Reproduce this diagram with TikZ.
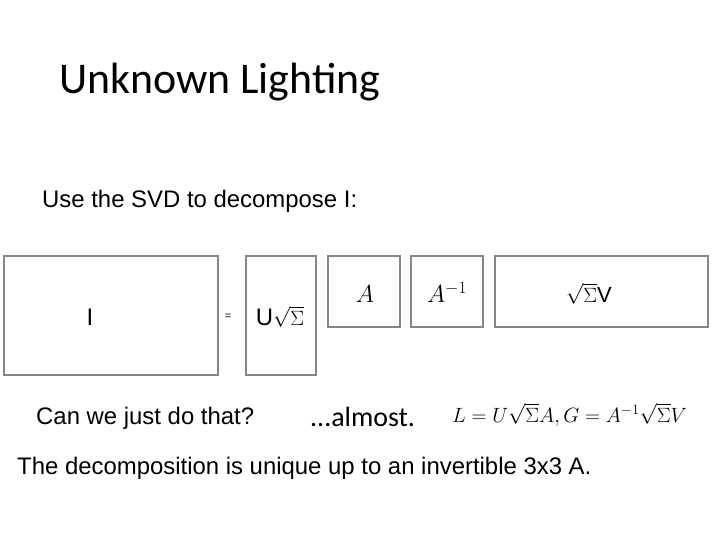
\documentclass[tikz,border=0pt]{standalone}
\usepackage{fontspec}
\usepackage{amsmath}
\setmainfont{Liberation Sans}
\newfontfamily\titlefont{Carlito}
\definecolor{boxgray}{RGB}{134,134,134}

\begin{document}
\begin{tikzpicture}[x=1bp,y=-1bp,
  matbox/.style={draw=boxgray,line width=2.5bp,inner sep=0pt},
  txt/.style={anchor=base west,inner sep=0pt}]
\useasboundingbox (0,0) rectangle (720,540);

\node[txt] (title) at (59,94) {\titlefont\fontsize{44}{50}\selectfont Unknown Lighting};
\node[txt] (intro) at (42,208) {\fontsize{24}{28}\selectfont Use the SVD to decompose I:};

% the factor boxes
\node[matbox,minimum width=214bp,minimum height=119bp] (boxI) at (111,315.5) {};
\node[matbox,minimum width=70bp,minimum height=119bp] (boxU) at (281,315.5) {};
\node[matbox,minimum width=72bp,minimum height=71bp] (boxA) at (364,291.5) {};
\node[matbox,minimum width=72bp,minimum height=71bp] (boxAi) at (447,291.5) {};
\node[matbox,minimum width=213bp,minimum height=71bp] (boxV) at (601.5,291.5) {};

\node[anchor=base,inner sep=0pt] (lblI) at (90,325) {\fontsize{24}{28}\selectfont I};
\node[inner sep=0pt] (eq) at (228,317) {\fontsize{11}{13}\selectfont =};
\node[anchor=base,inner sep=0pt] (lblU) at (280,325) {\fontsize{24}{28}\selectfont U{\fontsize{21}{25}\selectfont$\sqrt{\Sigma}$}};
\node[anchor=base,inner sep=0pt] (lblA) at (365,302) {\fontsize{24}{28}\selectfont $A$};
\node[anchor=base,inner sep=0pt] (lblAi) at (447,302) {\fontsize{24}{28}\selectfont $A^{-1}$};
\node[anchor=base,inner sep=0pt] (lblV) at (589,302) {\fontsize{22}{26}\selectfont $\sqrt{\Sigma}$V};

\node[txt] (ask) at (36,424) {\fontsize{24}{28}\selectfont Can we just do that?};
\node[txt] (almost) at (310,426) {\titlefont\fontsize{28}{33}\selectfont ...almost.};
\node[txt] (formula) at (452,422) {\fontsize{19.5}{24}\selectfont $L = U\sqrt{\Sigma}A, G = A^{-1}\sqrt{\Sigma}V$};
\node[txt] (note) at (17,474) {\fontsize{24}{28}\selectfont The decomposition is unique up to an invertible 3x3 A.};
\end{tikzpicture}
\end{document}
